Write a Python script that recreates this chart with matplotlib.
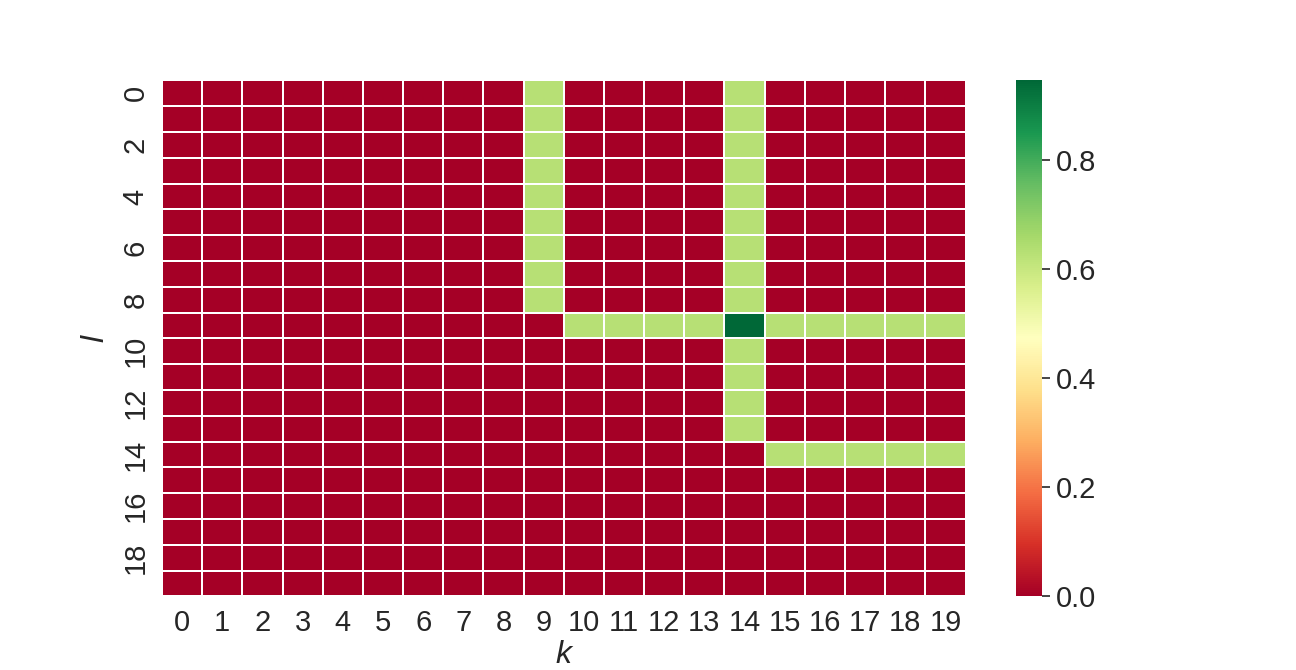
import matplotlib
matplotlib.use("Agg")
import matplotlib.pyplot as plt
import seaborn as sns
import numpy as np

n = 20
low = 0.0
mid = 0.63
peak = 0.945

# cells that are not at the low value: (row l, column k, value)
col9_rows = list(range(0, 9))
col14_rows = list(range(0, 9)) + list(range(10, 14))
row9_cols = [10, 11, 12, 13, 15, 16, 17, 18, 19]
row14_cols = [15, 16, 17, 18, 19]
peak_cell = (9, 14)

grid = np.full((n, n), low)
for r in col9_rows:
    grid[r, 9] = mid
for r in col14_rows:
    grid[r, 14] = mid
for c in row9_cols:
    grid[9, c] = mid
for c in row14_cols:
    grid[14, c] = mid
grid[peak_cell] = peak

sns.set_style("white")
plt.rcParams['font.family'] = ['Liberation Sans', 'DejaVu Sans']

fig = plt.figure(figsize=(12.96, 6.7), dpi=100)
ax = sns.heatmap(grid, cmap="RdYlGn", linewidths=1.2, linecolor="white",
                 vmin=0, vmax=peak, xticklabels=1, yticklabels=2)
ax.tick_params(axis="both", labelsize=21, length=0, colors="#262626", pad=9)
ax.set_xlabel("k", fontsize=23, fontstyle="italic", color="#262626", labelpad=2)
ax.set_ylabel("l", fontsize=23, fontstyle="italic", color="#262626", labelpad=8)
cbar = ax.collections[0].colorbar
cbar.ax.tick_params(labelsize=21, length=6, width=1.2, colors="#262626", pad=4)
cbar.outline.set_visible(False)

plt.savefig("out.png", dpi=100)
